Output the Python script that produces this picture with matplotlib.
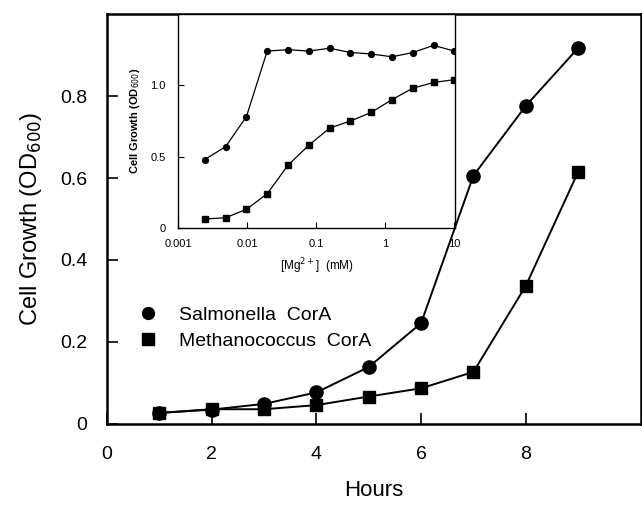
import matplotlib
matplotlib.use('Agg')
import matplotlib.pyplot as plt
import numpy as np

plt.rcParams['font.family'] = ['Liberation Sans', 'DejaVu Sans']

# main panel: growth over time
hours = [1, 2, 3, 4, 5, 6, 7, 8, 9]
salmonella = [0.027, 0.035, 0.049, 0.077, 0.139, 0.246, 0.606, 0.776, 0.917]
methano = [0.027, 0.036, 0.036, 0.046, 0.067, 0.087, 0.127, 0.337, 0.615]

# inset: growth vs Mg2+ concentration (mM), twofold dilutions from 10 mM
mg_conc = [10 / 2 ** k for k in range(12, -1, -1)]
inset_salm = [0.48, 0.57, 0.78, 1.24, 1.25, 1.24, 1.26, 1.23, 1.22, 1.20, 1.23, 1.28, 1.24]
inset_meth = [0.063, 0.072, 0.131, 0.24, 0.44, 0.58, 0.70, 0.75, 0.81, 0.90, 0.98, 1.02, 1.04]

fig = plt.figure(figsize=(6.42, 5.08), dpi=100)
ax = fig.add_axes([0.1667, 0.1654, 0.8317, 0.807])

ax.plot(hours, salmonella, color='black', lw=1.4, marker='o', ms=9.5,
        label='Salmonella  CorA')
ax.plot(hours, methano, color='black', lw=1.4, marker='s', ms=9,
        label='Methanococcus  CorA')
ax.set_xlim(0, 10.2)
ax.set_ylim(0, 1.0)
ax.set_xticks([0, 2, 4, 6, 8])
ax.set_yticks([0, 0.2, 0.4, 0.6, 0.8])
ax.set_yticklabels(['0', '0.2', '0.4', '0.6', '0.8'])
ax.tick_params(direction='in', length=8, width=1.2, labelsize=14)
ax.tick_params(axis='x', pad=16)
ax.tick_params(axis='y', pad=14)
for s in ax.spines.values():
    s.set_linewidth(1.8)
ax.set_xlabel('Hours', fontsize=16, labelpad=12)
ax.set_ylabel('Cell Growth (OD$_{600}$)', fontsize=17, labelpad=12)

ax.legend(loc='upper left', bbox_to_anchor=(0.04, 0.31), frameon=False,
          fontsize=14, handlelength=1.0, handletextpad=1.1, labelspacing=0.4,
          markerscale=0.9, borderpad=0)
for h in ax.get_legend().legend_handles:
    h.set_linestyle('none')

# inset
axin = fig.add_axes([178 / 642, 1 - 228 / 508, (455 - 178) / 642, (228 - 14) / 508])
axin.plot(mg_conc, inset_salm, color='black', lw=0.9, marker='o', ms=4.2)
axin.plot(mg_conc, inset_meth, color='black', lw=0.9, marker='s', ms=4.2)
axin.set_xscale('log')
axin.set_xlim(0.001, 10.2)
axin.set_ylim(0, 1.5)
axin.set_xticks([0.001, 0.01, 0.1, 1, 10])
axin.set_xticklabels(['0.001', '0.01', '0.1', '1', '10'])
axin.set_yticks([0, 0.5, 1.0])
axin.set_yticklabels(['0', '0.5', '1.0'])
axin.minorticks_off()
axin.tick_params(direction='in', length=4, width=0.8, labelsize=8)
axin.tick_params(axis='x', pad=8)
axin.tick_params(axis='y', pad=9)
for s in axin.spines.values():
    s.set_linewidth(1.0)
axin.set_xlabel('[Mg$^{2+}$]  (mM)', fontsize=8.5, labelpad=5)
axin.set_ylabel('Cell Growth (OD$_{600}$)', fontsize=8, fontweight='bold', labelpad=6)

fig.savefig('out.png', dpi=100)
